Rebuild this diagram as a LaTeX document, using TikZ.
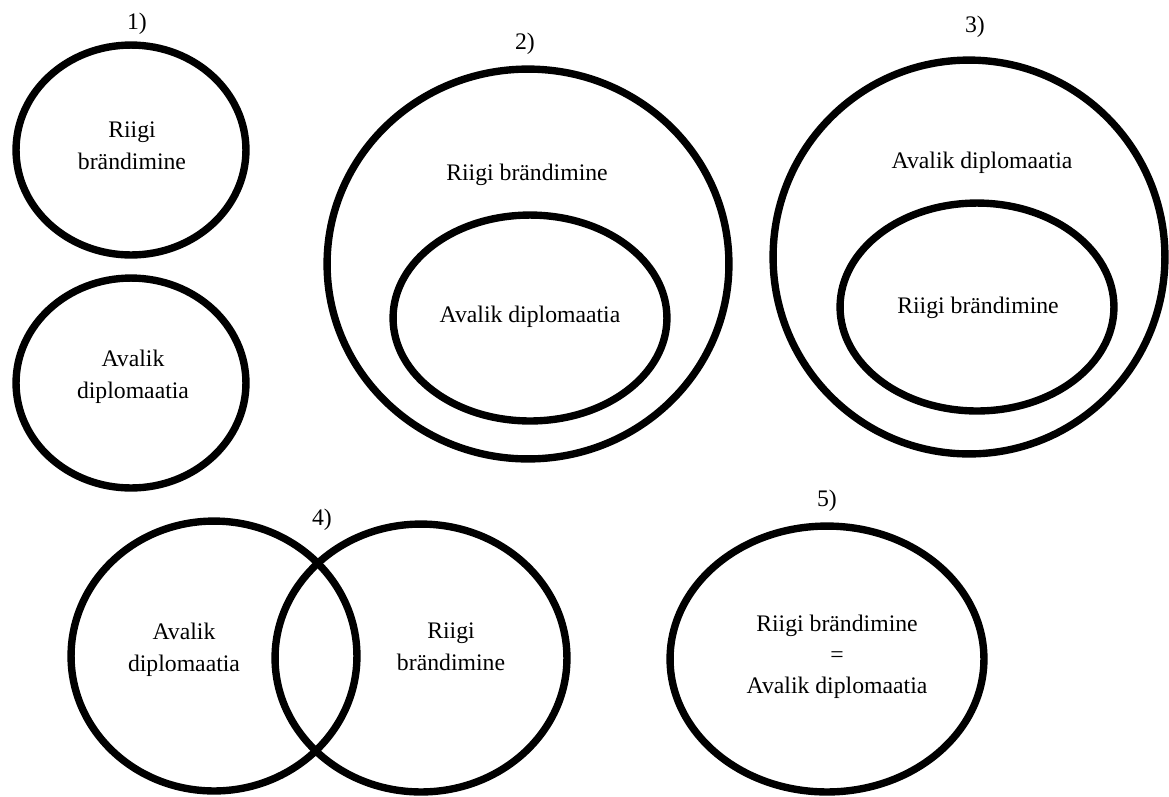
\documentclass[tikz,border=0pt]{standalone}
\usepackage{fontspec}
\setmainfont{Liberation Serif}
\usetikzlibrary{shapes.geometric}
\tikzset{
  ell/.style 2 args={draw=black, ellipse, line width=4.2pt, inner sep=0pt, outer sep=0pt,
    minimum width=#1*0.04cm, minimum height=#2*0.04cm},
  lbl/.style={inner sep=0pt, align=center, font=\fontsize{13.5}{18}\selectfont, text=black}
}
\begin{document}
\begin{tikzpicture}[x=0.02cm, y=-0.02cm]
\useasboundingbox[fill=white] (0,0) rectangle (1169,796);
% 1)
\node[ell={115}{105}] (e1a) at (131,150) {};
\node[ell={115}{105}] (e1b) at (131,383) {};
\node[lbl] (n1) at (137,24) {1)};
\node[lbl] (t1a) at (132,146) {Riigi\\brändimine};
\node[lbl] (t1b) at (133,377) {Avalik\\diplomaatia};
% 2)
\node[ell={201}{195}] (e2o) at (528,264) {};
\node[ell={137}{103}] (e2i) at (530,318) {};
\node[lbl] (n2) at (525,44) {2)};
\node[lbl] (t2o) at (527,175) {Riigi brändimine};
\node[lbl] (t2i) at (530,317) {Avalik diplomaatia};
% 3)
\node[ell={196}{197}] (e3o) at (969,257) {};
\node[ell={137}{104}] (e3i) at (977,307) {};
\node[lbl] (n3) at (975,27) {3)};
\node[lbl] (t3o) at (982,163) {Avalik diplomaatia};
\node[lbl] (t3i) at (978,308) {Riigi brändimine};
% 4)
\node[ell={143}{135}] (e4l) at (214,656) {};
\node[ell={146}{134}] (e4r) at (421,658) {};
\node[lbl] (n4) at (322,520) {4)};
\node[lbl] (t4l) at (184,650) {Avalik\\diplomaatia};
\node[lbl] (t4r) at (451,647) {Riigi\\brändimine};
% 5)
\node[ell={157}{133}] (e5) at (827,659) {};
\node[lbl] (n5) at (827,501) {5)};
\node[lbl, font=\fontsize{13.5}{17.5}\selectfont] (t5) at (837,657) {Riigi brändimine\\=\\Avalik diplomaatia};
\end{tikzpicture}
\end{document}
